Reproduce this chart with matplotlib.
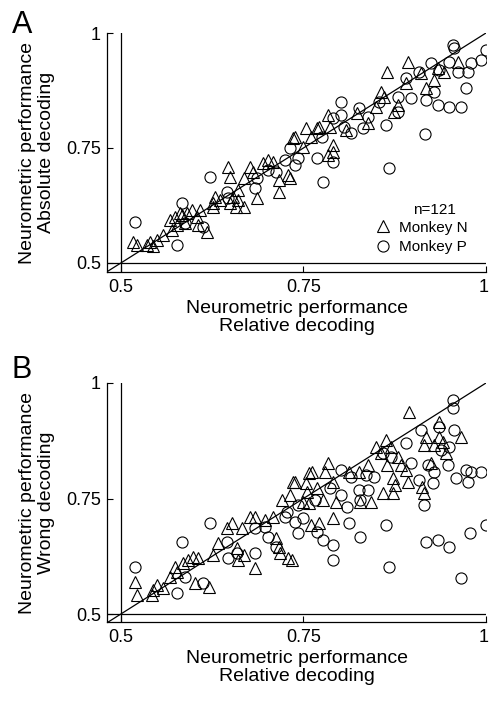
import matplotlib
matplotlib.use('Agg')
import matplotlib.pyplot as plt
from matplotlib.lines import Line2D
import matplotlib.transforms as mtransforms

plt.rcParams['font.family'] = ['Liberation Sans', 'DejaVu Sans']

# ---------------- data ----------------
ticks = [0.5, 0.75, 1.0]
tick_labels = ['0.5', '0.75', '1']

# Panel A: relative (x) vs absolute (y) decoding
A_N_x = [0.516,0.522,0.536,0.540,0.544,0.549,0.558,0.567,0.570,0.574,0.577,0.584,0.591,0.598,0.604,0.609,0.606,0.618,0.626,0.629,0.636,0.647,0.650,0.657,0.661,0.668,0.661,0.668,0.677,0.681,0.687,0.695,0.709,0.716,0.716,0.729,0.736,0.753,0.749,0.760,0.769,0.784,0.787,0.791,0.784,0.808,0.824,0.839,0.849,0.856,0.860,0.865,0.874,0.880,0.890,0.893,0.911,0.918,0.929,0.934,0.942,0.962,0.581,0.588,0.626,0.650,0.654,0.701,0.739,0.771,0.790,0.732]
A_N_y = [0.546,0.539,0.539,0.546,0.537,0.550,0.561,0.593,0.572,0.600,0.583,0.604,0.609,0.615,0.600,0.615,0.583,0.567,0.622,0.643,0.637,0.709,0.687,0.622,0.637,0.622,0.659,0.685,0.709,0.698,0.641,0.717,0.720,0.680,0.654,0.691,0.772,0.793,0.752,0.774,0.793,0.822,0.796,0.757,0.735,0.789,0.826,0.804,0.839,0.872,0.861,0.915,0.828,0.843,0.891,0.937,0.913,0.880,0.898,0.924,0.915,0.937,0.609,0.587,0.630,0.630,0.643,0.724,0.774,0.796,0.741,0.685]
A_P_x = [0.519,0.577,0.584,0.588,0.613,0.622,0.646,0.647,0.684,0.687,0.701,0.712,0.725,0.732,0.742,0.739,0.777,0.769,0.791,0.776,0.790,0.801,0.801,0.805,0.815,0.826,0.831,0.839,0.853,0.863,0.867,0.879,0.879,0.890,0.897,0.908,0.918,0.916,0.924,0.929,0.934,0.935,0.949,0.949,0.955,0.956,0.962,0.966,0.973,0.975,0.979,0.993,1.000]
A_P_y = [0.589,0.539,0.630,0.587,0.578,0.687,0.654,0.641,0.663,0.685,0.702,0.698,0.724,0.750,0.728,0.713,0.676,0.728,0.720,0.774,0.815,0.822,0.850,0.796,0.783,0.837,0.793,0.817,0.850,0.800,0.707,0.861,0.828,0.902,0.859,0.915,0.854,0.780,0.935,0.872,0.843,0.920,0.937,0.839,0.974,0.967,0.915,0.839,0.880,0.915,0.935,0.941,0.963]

# Panel B: relative (x) vs wrong (y) decoding
B_N_x = [0.519,0.522,0.543,0.544,0.549,0.558,0.567,0.574,0.577,0.585,0.592,0.599,0.606,0.602,0.620,0.626,0.633,0.646,0.652,0.661,0.659,0.668,0.666,0.677,0.684,0.684,0.698,0.709,0.712,0.716,0.718,0.729,0.721,0.732,0.736,0.753,0.755,0.750,0.757,0.894,0.935,0.966,0.935,0.941,0.929,0.945,0.915,0.918,0.863,0.870,0.849,0.856,0.865,0.879,0.883,0.890,0.872,0.893,0.876,0.924,0.915,0.913,0.838,0.826,0.784,0.780,0.762,0.739,0.769,0.791,0.777,0.757,0.794,0.812,0.842,0.828,0.859,0.872,0.790,0.771,0.760,0.735]
B_N_y = [0.569,0.541,0.541,0.552,0.563,0.556,0.580,0.602,0.591,0.610,0.617,0.623,0.621,0.567,0.558,0.628,0.654,0.686,0.697,0.617,0.643,0.628,0.686,0.710,0.710,0.600,0.703,0.710,0.665,0.645,0.632,0.621,0.747,0.758,0.786,0.784,0.764,0.742,0.805,0.937,0.916,0.883,0.883,0.872,0.866,0.848,0.866,0.883,0.877,0.861,0.861,0.848,0.823,0.840,0.823,0.812,0.794,0.786,0.779,0.827,0.762,0.775,0.823,0.807,0.827,0.807,0.807,0.786,0.773,0.786,0.747,0.740,0.742,0.807,0.742,0.742,0.762,0.762,0.708,0.697,0.693,0.617]
B_P_x = [0.519,0.577,0.584,0.622,0.588,0.613,0.646,0.647,0.659,0.684,0.701,0.712,0.684,0.698,0.728,0.739,0.743,0.750,0.742,0.955,0.955,0.911,0.935,0.956,0.949,0.938,0.890,0.859,0.870,0.897,0.920,0.929,0.908,0.927,0.948,0.959,0.973,0.975,0.979,0.993,1.000,0.978,0.915,0.918,0.934,0.949,0.966,0.867,0.863,0.828,0.812,0.791,0.791,0.777,0.769,0.766,0.801,0.801,0.815,0.826,0.828,0.838,0.846,0.835,0.787,0.810,0.725]
B_P_y = [0.602,0.545,0.656,0.697,0.580,0.567,0.656,0.621,0.632,0.632,0.667,0.645,0.686,0.688,0.721,0.699,0.675,0.708,0.736,0.963,0.946,0.898,0.905,0.898,0.861,0.855,0.870,0.848,0.840,0.827,0.823,0.807,0.790,0.784,0.823,0.794,0.812,0.786,0.807,0.807,0.693,0.675,0.736,0.656,0.660,0.645,0.578,0.602,0.693,0.667,0.697,0.649,0.617,0.660,0.677,0.747,0.758,0.812,0.797,0.768,0.747,0.768,0.797,0.801,0.773,0.732,0.710]

n_label = 'n=121'
series_names = ['Monkey N', 'Monkey P']
xlabel = 'Neurometric performance\nRelative decoding'
ylabels = ['Neurometric performance\nAbsolute decoding', 'Neurometric performance\nWrong decoding']
panel_letters = ['A', 'B']

# ---------------- figure ----------------
W, H = 490, 701
fig = plt.figure(figsize=(W / 100, H / 100), dpi=100)
axA = fig.add_axes([107 / W, 1 - 272 / H, 379 / W, 239 / H])
axB = fig.add_axes([107 / W, 1 - 622 / H, 379 / W, 239 / H])

mk = dict(linestyle='none', mfc='none', mec='black', mew=0.8)

def style(ax, ylab, ylo):
    ax.set_xlim(0.481, 1.0)
    ax.set_ylim(ylo, 1.0)
    for s in ['top', 'right']:
        ax.spines[s].set_visible(False)
    for s in ['left', 'bottom']:
        ax.spines[s].set_linewidth(0.9)
    ax.set_xticks(ticks)
    ax.set_xticklabels(tick_labels)
    ax.set_yticks(ticks)
    ax.set_yticklabels(tick_labels)
    ax.tick_params(axis='both', direction='in', length=4, width=0.8, labelsize=13)
    ax.tick_params(axis='x', pad=5)
    ax.tick_params(axis='y', pad=4.5)
    # nudge the last x tick label so it stays inside the figure
    last = ax.get_xticklabels()[-1]
    last.set_transform(last.get_transform() +
                       mtransforms.ScaledTranslation(-2 / 100, 0, fig.dpi_scale_trans))
    ax.axvline(0.5, color='black', lw=0.9)
    ax.axhline(0.5, color='black', lw=0.9)
    ax.plot([0.48, 1.0], [0.48, 1.0], color='black', lw=0.9)
    ax.set_xlabel(xlabel, fontsize=14, linespacing=1.1, labelpad=3)
    ax.set_ylabel(ylab, fontsize=14, linespacing=1.1, labelpad=8)

style(axA, ylabels[0], 0.4804)
style(axB, ylabels[1], 0.4827)

axA.plot(A_N_x, A_N_y, marker='^', ms=8.5, **mk)
axA.plot(A_P_x, A_P_y, marker='o', ms=8, **mk)
axB.plot(B_N_x, B_N_y, marker='^', ms=8.5, **mk)
axB.plot(B_P_x, B_P_y, marker='o', ms=8, **mk)

handles = [Line2D([], [], marker='^', ms=8.5, **mk),
           Line2D([], [], marker='o', ms=8, **mk)]
axA.legend(handles, series_names, loc='upper left', bbox_to_anchor=(0.709, 0.215),
           frameon=False, fontsize=11, handlelength=1.0, handletextpad=0.5,
           borderpad=0, borderaxespad=0, labelspacing=0.35)
axA.text(0.863, 0.243, n_label, transform=axA.transAxes, ha='center', va='baseline', fontsize=11)

fig.text(12 / W, 1 - 33 / H, panel_letters[0], fontsize=22, va='baseline', ha='left')
fig.text(12 / W, 1 - 378 / H, panel_letters[1], fontsize=22, va='baseline', ha='left')

fig.savefig('out.png', dpi=100)
